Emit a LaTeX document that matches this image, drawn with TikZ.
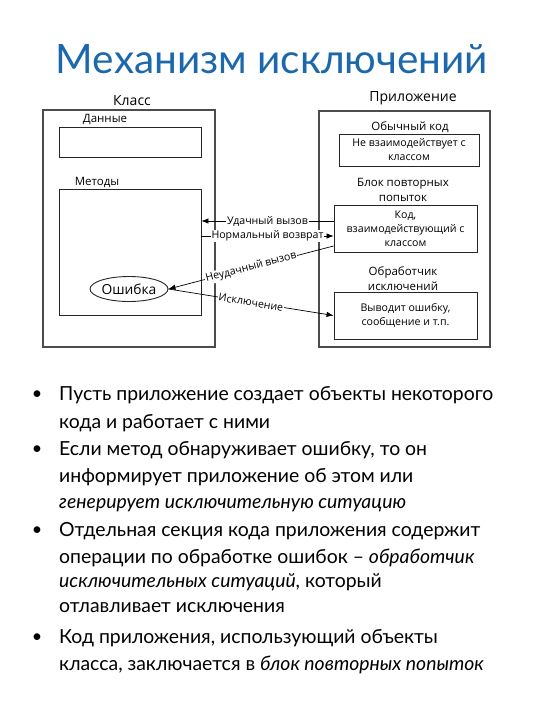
\documentclass[tikz,border=0pt]{standalone}
\usepackage{fontspec}
\setmainfont{Lato}
\newfontfamily\dfont{Open Sans}
\usetikzlibrary{arrows.meta,shapes.geometric}
\definecolor{titleblue}{RGB}{28,104,172}
\begin{document}
\begin{tikzpicture}[x=1pt,y=-1pt,
  outer/.style={draw=black!70,line width=1.3pt,minimum width=#1,inner sep=0pt},
  inner/.style={draw=black!85,line width=0.9pt,inner sep=0pt},
  lbl/.style={font=\dfont\fontsize{11.5}{13}\selectfont,inner sep=0pt},
  biglbl/.style={font=\dfont\fontsize{14}{16}\selectfont,inner sep=0pt},
  boxtxt/.style={font=\dfont\fontsize{10.6}{14}\selectfont,align=center,inner sep=0pt},
  arr/.style={draw=black,line width=0.7pt,-{Latex[length=7pt,width=5.5pt]}},
  alabel/.style={font=\dfont\fontsize{10.6}{12}\selectfont,fill=white,inner sep=0.8pt},
  bline/.style={font=\fontsize{19.4}{24}\selectfont,anchor=base west,inner sep=0pt},
  bdot/.style={font=\fontsize{18}{24}\selectfont,anchor=base,inner sep=0pt},
]
\useasboundingbox[fill=white] (0,0) rectangle (540,720);

\node[font=\fontsize{40.5}{48}\selectfont,text=titleblue,anchor=base] (title) at (272,73) {Механизм исключений};

% Class
\node[outer=172,minimum height=237] (cls) at (129,228.5) {};
\node[biglbl] (clsl) at (132,101) {Класс};
\node[inner,minimum width=142,minimum height=30] (data) at (130,142) {};
\node[lbl] (datal) at (105,119) {Данные};
\node[inner,minimum width=142,minimum height=126] (meth) at (130,252) {};
\node[lbl] (methl) at (97,182) {Методы};
\node[inner,ellipse,minimum width=78,minimum height=25,font=\dfont\fontsize{13.8}{15}\selectfont] (err) at (129,289) {Ошибка};

% Application
\node[outer=171,minimum height=236] (app) at (404.5,229) {};
\node[biglbl] (appl) at (413,98) {Приложение};
\node[lbl] (plain) at (410,127) {Обычный код};
\node[inner,minimum width=140,minimum height=32,boxtxt] (box1) at (409,150) {Не взаимодействует с\\классом};
\node[lbl,align=center,font=\dfont\fontsize{11.5}{15}\selectfont] (tryl) at (403,190) {Блок повторных\\попыток};
\node[inner,minimum width=143,minimum height=47,boxtxt] (box2) at (405.5,228.5) {Код,\\взаимодействующий с\\классом};
\node[lbl,align=center,font=\dfont\fontsize{11.5}{15}\selectfont] (handl) at (403,279) {Обработчик\\исключений};
\node[inner,minimum width=143,minimum height=47,boxtxt] (box3) at (405.5,315.5) {Выводит ошибку,\\сообщение и т.п.};

% Connectors
\draw[arr] ([yshift=7.5pt]box2.west) -- node[alabel]{Удачный вызов} ([yshift=7.5pt]box2.west -| meth.east);
\draw[arr] ([yshift=-7.5pt]box2.west -| meth.east) -- node[alabel]{Нормальный возврат} ([yshift=-7.5pt]box2.west);
\draw[arr] ([yshift=-17.5pt]box2.west) -- node[alabel,sloped]{Неудачный вызов} (err.east);
\draw[arr] (err.east) -- node[alabel,sloped]{Исключение} (box3.west);

% Bullets
\node[bdot] (d1) at (37,399) {•};
\node[bline] (l1) at (59,400) {Пусть приложение создает объекты некоторого};
\node[bline] (l2) at (59,428) {кода и работает с ними};
\node[bdot] (d2) at (37,454) {•};
\node[bline] (l3) at (59,455) {Если метод обнаруживает ошибку, то он};
\node[bline] (l4) at (59,482) {информирует приложение об этом или};
\node[bline] (l5) at (59,508) {\textit{генерирует исключительную ситуацию}};
\node[bdot] (d3) at (37,535) {•};
\node[bline] (l6) at (59,536) {Отдельная секция кода приложения содержит};
\node[bline] (l7) at (59,563) {операции по обработке ошибок – \textit{обработчик}};
\node[bline] (l8) at (59,587) {\textit{исключительных ситуаций}, который};
\node[bline] (l9) at (59,612) {отлавливает исключения};
\node[bdot] (d4) at (37,642) {•};
\node[bline] (l10) at (59,643) {Код приложения, использующий объекты};
\node[bline] (l11) at (59,670) {класса, заключается в \textit{блок повторных попыток}};
\end{tikzpicture}
\end{document}
